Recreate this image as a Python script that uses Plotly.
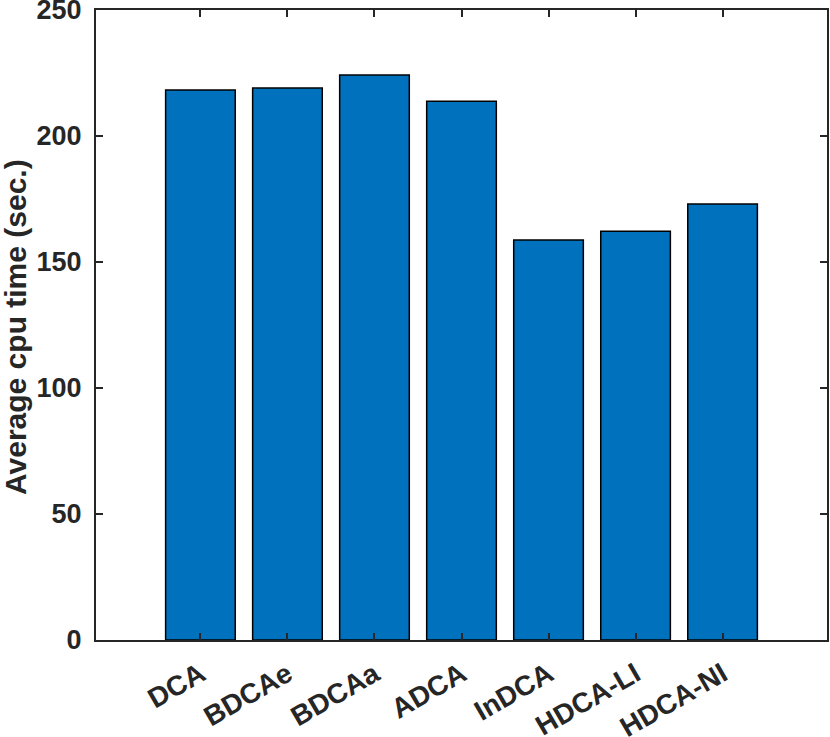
import plotly.graph_objects as go

categories = ["DCA", "BDCAe", "BDCAa", "ADCA", "InDCA", "HDCA-LI", "HDCA-NI"]
cpu_time = [218.3, 219.0, 224.2, 213.8, 158.7, 162.2, 173.0]
positions = [1, 2, 3, 4, 5, 6, 7]
y_ticks = [0, 50, 100, 150, 200, 250]
y_title = "Average cpu time (sec.)"

font_family = "Liberation Sans, Arial, Helvetica, sans-serif"
axis_color = "#262626"

fig = go.Figure()
fig.add_trace(go.Bar(
    x=positions,
    y=cpu_time,
    width=0.8,
    marker=dict(color="#0072BD", line=dict(color="#000000", width=1.5)),
))

fig.update_layout(
    width=830,
    height=737,
    margin=dict(l=96, r=3, t=10, b=97),
    plot_bgcolor="white",
    paper_bgcolor="white",
    showlegend=False,
    font=dict(family=font_family, color=axis_color, size=27, weight="bold"),
)

fig.update_xaxes(
    range=[-0.2, 8.2],
    tickmode="array",
    tickvals=positions,
    ticktext=categories,
    tickangle=-30,
    ticks="inside",
    ticklen=7,
    tickwidth=1.5,
    tickcolor=axis_color,
    showline=True,
    linecolor=axis_color,
    linewidth=2,
    mirror="ticks",
    showgrid=False,
    zeroline=False,
    automargin=False,
    ticklabeloverflow="allow",
    ticklabelstandoff=5,
    tickfont=dict(family=font_family, size=28, color=axis_color, weight="bold"),
)

fig.update_yaxes(
    range=[0, 250],
    tickmode="array",
    tickvals=y_ticks,
    ticks="inside",
    ticklen=7,
    tickwidth=1.5,
    tickcolor=axis_color,
    showline=True,
    linecolor=axis_color,
    linewidth=2,
    mirror="ticks",
    showgrid=False,
    zeroline=False,
    automargin=False,
    ticklabeloverflow="allow",
    ticklabelstandoff=7,
    tickfont=dict(family=font_family, size=27, color=axis_color, weight="bold"),
)

fig.add_annotation(
    text=y_title,
    xref="paper", yref="paper",
    x=(15 - 96) / 731, y=(640 - 327) / 630,
    xanchor="center", yanchor="middle",
    textangle=-90,
    showarrow=False,
    font=dict(family=font_family, size=30, color=axis_color, weight="bold"),
)

fig.write_html(
    "out.html",
    config={"displayModeBar": False},
    post_script="document.body.style.margin='0';",
)
